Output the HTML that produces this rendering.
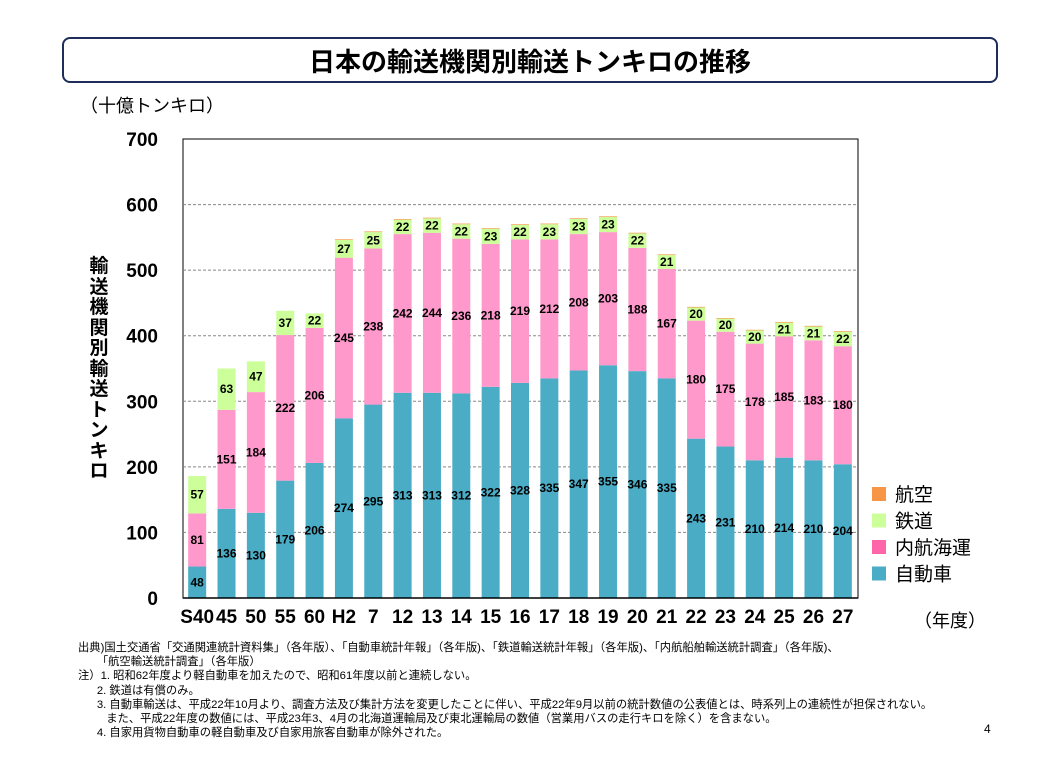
<!DOCTYPE html>
<html><head><meta charset="utf-8"><style>
body{margin:0;background:#fff;font-family:"Liberation Sans","Noto Sans CJK JP",sans-serif;}
#wrap{position:relative;width:1058px;height:782px;overflow:hidden;}
.t{position:absolute;white-space:nowrap;color:#000;}
</style></head><body>
<div id="wrap">
<div style="position:absolute;left:62px;top:37px;width:932px;height:42px;border:2px solid #1f2d5a;border-radius:8px;"></div>
<div class="t" style="left:62px;width:936px;top:42px;text-align:center;font-size:26px;font-weight:bold;">日本の輸送機関別輸送トンキロの推移</div>
<div class="t" style="left:80px;top:92px;font-size:18px;">（十億トンキロ）</div>
<div class="t" style="left:88px;top:257px;font-size:19px;font-weight:bold;width:22px;line-height:20.5px;white-space:normal;text-align:center;">輸送機関別輸送トンキロ</div>
<div class="t" style="left:914px;top:607px;font-size:18px;">（年度）</div>
<svg id="chart" width="1058" height="782" style="position:absolute;left:0;top:0"></svg>
<div class="t" style="left:78px;top:641px;font-size:11.3px;line-height:14.2px;">
出典)国土交通省「交通関連統計資料集」（各年版）、「自動車統計年報」（各年版)、「鉄道輸送統計年報」（各年版)、「内航船舶輸送統計調査」（各年版)、<br>
&nbsp;&nbsp;&nbsp;&nbsp;&nbsp;&nbsp;「航空輸送統計調査」（各年版）<br>
注）1. 昭和62年度より軽自動車を加えたので、昭和61年度以前と連続しない。<br>
&nbsp;&nbsp;&nbsp;&nbsp;&nbsp;&nbsp;2. 鉄道は有償のみ。<br>
&nbsp;&nbsp;&nbsp;&nbsp;&nbsp;&nbsp;3. 自動車輸送は、平成22年10月より、調査方法及び集計方法を変更したことに伴い、平成22年9月以前の統計数値の公表値とは、時系列上の連続性が担保されない。<br>
&nbsp;&nbsp;&nbsp;&nbsp;&nbsp;&nbsp;&nbsp;&nbsp;&nbsp;また、平成22年度の数値には、平成23年3、4月の北海道運輸局及び東北運輸局の数値（営業用バスの走行キロを除く）を含まない。<br>
&nbsp;&nbsp;&nbsp;&nbsp;&nbsp;&nbsp;4. 自家用貨物自動車の軽自動車及び自家用旅客自動車が除外された。</div>
<div class="t" style="left:984px;top:722px;font-size:12px;">4</div>
</div>
<script>
const categories=["S40","45","50","55","60","H2","7","12","13","14","15","16","17","18","19","20","21","22","23","24","25","26","27"];
const auto=[48,136,130,179,206,274,295,313,313,312,322,328,335,347,355,346,335,243,231,210,214,210,204];
const ship=[81,151,184,222,206,245,238,242,244,236,218,219,212,208,203,188,167,180,175,178,185,183,180];
const rail=[57,63,47,37,22,27,25,22,22,22,23,22,23,23,23,22,21,20,20,20,21,21,22];
const air=[0,0,0,0,0,1,1,1,1,1,1,1,1,1,1,1,1,1,1,1,1,1,1];
const yTicks=[0,100,200,300,400,500,600,700];
const legendNames=["航空","鉄道","内航海運","自動車"];
const colors={auto:"#4bacc6",ship:"#ff99cc",rail:"#ccff99",air:"#f79646"};
const svg=document.getElementById('chart');
const NS="http://www.w3.org/2000/svg";
const L=183,R=858,T=139,B=598,yMax=700;
const y=v=>B-(v/yMax)*(B-T);
const pitch=(R-L)/categories.length;
const xc=i=>L+pitch*(i+0.5)-0.5;
const bw=18;
function mk(tag,attrs){const e=document.createElementNS(NS,tag);for(const k in attrs)e.setAttribute(k,attrs[k]);svg.appendChild(e);return e;}
let e=mk('rect',{x:L,y:T,width:R-L,height:B-T,fill:'#fff',stroke:'#000','stroke-width':1});

yTicks.forEach(v=>{
 if(v>0&&v<yMax){const g=mk('line',{x1:L,x2:R,y1:y(v),y2:y(v),stroke:'#888','stroke-dasharray':'3,2','stroke-width':1});
 }
 const t=mk('text',{x:158,y:y(v)+7,'text-anchor':'end','font-size':19,'font-weight':'bold','font-family':'Liberation Sans, sans-serif'});t.textContent=v;
 
});
categories.forEach((c,i)=>{
 const segs=[["auto",auto[i]],["ship",ship[i]],["rail",rail[i]],["air",air[i]]];
 let base=0;
 segs.forEach(([k,v])=>{
  if(v<=0)return;
  const r=mk('rect',{x:xc(i)-bw/2,y:y(base+v),width:bw,height:y(base)-y(base+v),fill:colors[k]});
  
  if(k!=="air"){const t=mk('text',{x:xc(i),y:y(base+v/2)+4,'text-anchor':'middle','font-size':12,'font-weight':'bold','font-family':'Liberation Sans, sans-serif',fill:'#000'});t.textContent=v;
  }
  base+=v;
 });
 const t=mk('text',{x:xc(i),y:623,'text-anchor':'middle','font-size':19,'font-weight':'bold','font-family':'Liberation Sans, sans-serif'});t.textContent=c;
 
});
const ax=mk('line',{x1:L,x2:R,y1:B,y2:B,stroke:'#000','stroke-width':1.5});

const lc=[colors.air,colors.rail,"#ff66aa",colors.auto];
legendNames.forEach((n,j)=>{
 const yy=494+j*26.5;
 const r=mk('rect',{x:872,y:yy-7,width:14,height:14,fill:lc[j]});
 
 const t=mk('text',{x:895,y:yy+7,'font-size':19,'font-family':'Liberation Sans, Noto Sans CJK JP, sans-serif'});t.textContent=n;
 
});
</script>
</body></html>
